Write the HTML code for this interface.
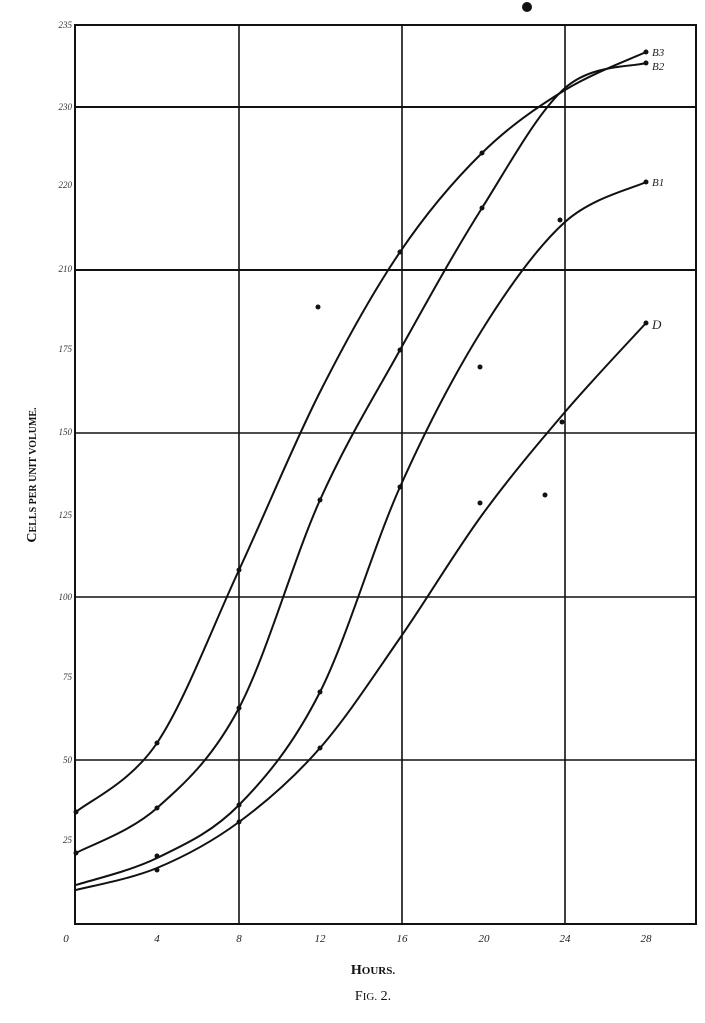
<!DOCTYPE html>
<html><head><meta charset="utf-8"><style>
body{margin:0;background:#fff;}
svg{display:block;font-family:"Liberation Serif",serif;}
</style></head><body>
<svg id="s" width="705" height="1023" viewBox="0 0 705 1023">
<rect width="705" height="1023" fill="#fff"/>
<g stroke="#111" fill="none">
<rect x="75" y="25" width="621" height="899" stroke-width="2"/>
<line x1="239" y1="25" x2="239" y2="924" stroke-width="1.6"/>
<line x1="402" y1="25" x2="402" y2="924" stroke-width="1.6"/>
<line x1="565" y1="25" x2="565" y2="924" stroke-width="1.6"/>
<line x1="75" y1="107" x2="696" y2="107" stroke-width="2"/>
<line x1="75" y1="270" x2="696" y2="270" stroke-width="2"/>
<line x1="75" y1="433" x2="696" y2="433" stroke-width="1.6"/>
<line x1="75" y1="597" x2="696" y2="597" stroke-width="1.6"/>
<line x1="75" y1="760" x2="696" y2="760" stroke-width="1.6"/>
<g stroke-width="2" id="curves"></g>
</g>
<g fill="#111">
<circle cx="76" cy="812" r="2.5"/><circle cx="157" cy="743" r="2.5"/><circle cx="239" cy="570" r="2.5"/><circle cx="400" cy="252" r="2.5"/><circle cx="482" cy="153" r="2.5"/><circle cx="646" cy="52" r="2.5"/><circle cx="318" cy="307" r="2.5"/>
<circle cx="76" cy="853" r="2.5"/><circle cx="157" cy="808" r="2.5"/><circle cx="239" cy="708" r="2.5"/><circle cx="320" cy="500" r="2.5"/><circle cx="400" cy="350" r="2.5"/><circle cx="482" cy="208" r="2.5"/><circle cx="646" cy="63" r="2.5"/>
<circle cx="157" cy="856" r="2.5"/><circle cx="239" cy="805" r="2.5"/><circle cx="320" cy="692" r="2.5"/><circle cx="400" cy="487" r="2.5"/><circle cx="560" cy="220" r="2.5"/><circle cx="646" cy="182" r="2.5"/><circle cx="480" cy="367" r="2.5"/>
<circle cx="157" cy="870" r="2.5"/><circle cx="239" cy="822" r="2.5"/><circle cx="320" cy="748" r="2.5"/><circle cx="480" cy="503" r="2.5"/><circle cx="545" cy="495" r="2.5"/><circle cx="562" cy="422" r="2.5"/><circle cx="646" cy="323" r="2.5"/>
<circle cx="527" cy="7" r="5"/>
</g>
<g font-size="11" fill="#222" font-style="italic">
<text x="652" y="56">B3</text><text x="652" y="70">B2</text><text x="652" y="186">B1</text><text x="652" y="329" font-size="13">D</text>
</g>
<g font-size="9" fill="#333" text-anchor="end" font-style="italic">
<text x="72" y="28">235</text><text x="72" y="110">230</text><text x="72" y="188">220</text><text x="72" y="272">210</text><text x="72" y="352">175</text><text x="72" y="435">150</text><text x="72" y="518">125</text><text x="72" y="600">100</text><text x="72" y="680">75</text><text x="72" y="763">50</text><text x="72" y="843">25</text>
</g>
<g font-size="11" fill="#222" text-anchor="middle" font-style="italic">
<text x="66" y="942">0</text><text x="157" y="942">4</text><text x="239" y="942">8</text><text x="320" y="942">12</text><text x="402" y="942">16</text><text x="484" y="942">20</text><text x="565" y="942">24</text><text x="646" y="942">28</text>
</g>
<text x="36" y="475" font-size="14" font-weight="bold" fill="#111" text-anchor="middle" transform="rotate(-90 36 475)">C<tspan font-size="10">ELLS PER UNIT VOLUME.</tspan></text>
<text x="373" y="974" font-size="14" font-weight="bold" fill="#111" text-anchor="middle">H<tspan font-size="11">OURS.</tspan></text>
<text x="373" y="1000" font-size="14" fill="#111" text-anchor="middle">F<tspan font-size="11">IG.</tspan> 2.</text>
</svg>
<script>
var C=[
[[76,812],[157,743],[239,570],[320,392],[400,252],[482,153],[565,90],[646,52]],
[[76,853],[157,808],[239,708],[320,500],[400,350],[482,208],[565,88],[646,63]],
[[76,885],[157,858],[239,805],[320,692],[400,487],[482,330],[565,222],[646,182]],
[[76,890],[157,868],[239,822],[320,748],[400,638],[482,515],[565,412],[646,323]]];
var g=document.getElementById('curves'),ns='http://www.w3.org/2000/svg';
C.forEach(function(p){var d='M'+p[0][0]+','+p[0][1];
for(var i=0;i<p.length-1;i++){var a=p[Math.max(i-1,0)],b=p[i],c=p[i+1],e=p[Math.min(i+2,p.length-1)];
var c1=[b[0]+(c[0]-a[0])/6,b[1]+(c[1]-a[1])/6],c2=[c[0]-(e[0]-b[0])/6,c[1]-(e[1]-b[1])/6];
d+=' C'+c1+' '+c2+' '+c;}
var el=document.createElementNS(ns,'path');el.setAttribute('d',d);g.appendChild(el);});
</script>
</body></html>
